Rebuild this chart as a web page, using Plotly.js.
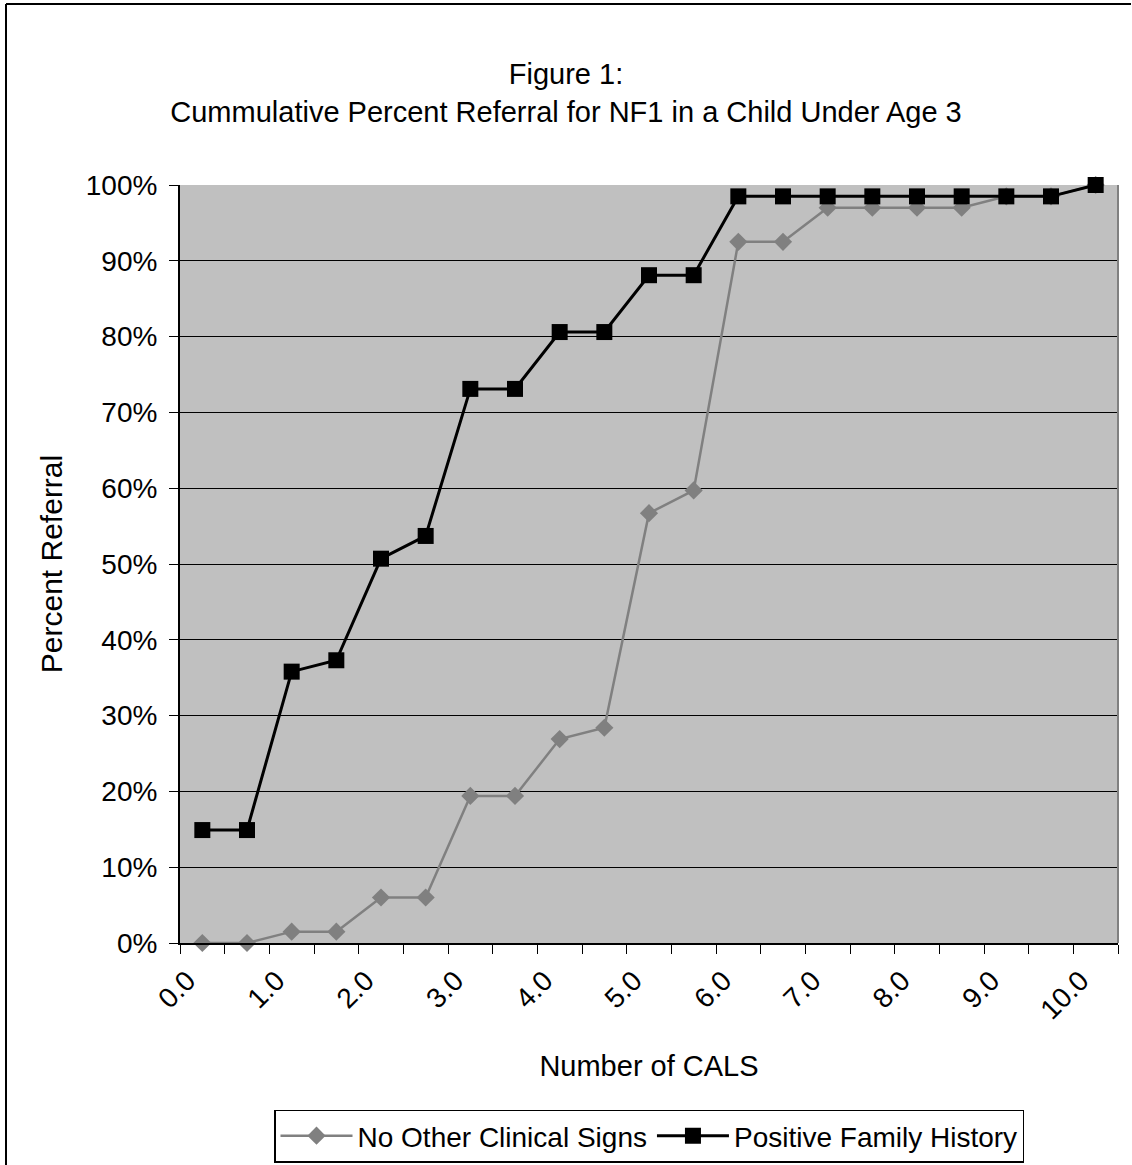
<!DOCTYPE html>
<html>
<head>
<meta charset="utf-8">
<script src="https://cdn.plot.ly/plotly-3.0.1.min.js"></script>
<style>
  html, body { margin: 0; padding: 0; background: #ffffff; }
  #chart { width: 1132px; height: 1165px; }
</style>
</head>
<body>
<div id="chart"></div>
<script>
// Number of CALS categories
var cals = [0.0, 0.5, 1.0, 1.5, 2.0, 2.5, 3.0, 3.5, 4.0, 4.5, 5.0, 5.5, 6.0, 6.5, 7.0, 7.5, 8.0, 8.5, 9.0, 9.5, 10.0];
// Cumulative percent referral (%)
var noOtherClinicalSigns = [0, 0, 1.5, 1.5, 6.0, 6.0, 19.4, 19.4, 26.9, 28.4, 56.7, 59.7, 92.5, 92.5, 97.0, 97.0, 97.0, 97.0, 98.5, 98.5, 100];
var positiveFamilyHistory = [14.9, 14.9, 35.8, 37.3, 50.7, 53.7, 73.1, 73.1, 80.6, 80.6, 88.1, 88.1, 98.5, 98.5, 98.5, 98.5, 98.5, 98.5, 98.5, 98.5, 100];
// Tick labels
var xTickValues = [0, 1, 2, 3, 4, 5, 6, 7, 8, 9, 10];
var xTickLabels = ["0.0", "1.0", "2.0", "3.0", "4.0", "5.0", "6.0", "7.0", "8.0", "9.0", "10.0"];
var yTickValues = [0, 10, 20, 30, 40, 50, 60, 70, 80, 90, 100];
var yTickLabels = ["0%", "10%", "20%", "30%", "40%", "50%", "60%", "70%", "80%", "90%", "100%"];

var step = cals[1] - cals[0];
var boundaries = cals.map(function (c) { return c - step / 2; });
boundaries.push(cals[cals.length - 1] + step / 2);

var FONT = 'Liberation Sans, Arial, sans-serif';

var traces = [
  {
    x: cals, y: noOtherClinicalSigns, type: 'scatter', mode: 'lines+markers',
    name: 'No Other Clinical Signs',
    line: { color: '#808080', width: 2.5 },
    marker: { symbol: 'diamond', size: 14, color: '#808080' },
    cliponaxis: false
  },
  {
    x: cals, y: positiveFamilyHistory, type: 'scatter', mode: 'lines+markers',
    name: 'Positive Family History',
    line: { color: '#000000', width: 3 },
    marker: { symbol: 'square', size: 16, color: '#000000' },
    cliponaxis: false
  }
];

// plot area: x 180..1118, y 185..943
function px(xp) { return (xp - 180) / 938; }
function py(yp) { return (943 - yp) / 758; }

var layout = {
  width: 1132, height: 1165,
  margin: { l: 180, r: 14, t: 185, b: 222, pad: 0, autoexpand: false },
  paper_bgcolor: '#ffffff',
  plot_bgcolor: '#c0c0c0',
  font: { family: FONT, size: 28, color: '#000000' },
  showlegend: true,
  title: {
    text: 'Figure 1:<br>Cummulative Percent Referral for NF1 in a Child Under Age 3',
    font: { family: FONT, size: 29, color: '#000000' },
    x: 0.5, xref: 'container', xanchor: 'center',
    y: 1 - 84 / 1165, yref: 'container', yanchor: 'top'
  },
  xaxis: {
    type: 'linear',
    range: [boundaries[0], boundaries[boundaries.length - 1]],
    tickmode: 'array', tickvals: xTickValues, ticktext: xTickLabels,
    tickangle: -45,
    ticklabelstandoff: 8, ticklabelshift: -15,
    ticks: '', showgrid: false, zeroline: false,
    showline: true, linecolor: '#000000', linewidth: 2,
    tickfont: { family: FONT, size: 28, color: '#000000' },
    minor: { tickmode: 'array', tickvals: boundaries, ticks: 'outside', ticklen: 9, tickcolor: '#000000', tickwidth: 1, showgrid: false },
    title: { text: 'Number of CALS', font: { family: FONT, size: 29, color: '#000000' }, standoff: 31 },
    automargin: false, fixedrange: true
  },
  yaxis: {
    range: [0, 100],
    tickmode: 'array', tickvals: yTickValues, ticktext: yTickLabels,
    ticks: 'outside', ticklen: 9, tickcolor: '#000000', tickwidth: 1,
    ticklabelstandoff: 6,
    showgrid: true, gridcolor: '#000000', gridwidth: 1,
    zeroline: false,
    showline: true, linecolor: '#000000', linewidth: 2,
    tickfont: { family: FONT, size: 28, color: '#000000' },
    title: { text: 'Percent Referral', font: { family: FONT, size: 30, color: '#000000' }, standoff: 14 },
    automargin: false, fixedrange: true
  },
  legend: {
    orientation: 'h',
    x: 0.5, xanchor: 'center',
    y: py(1136), yanchor: 'middle',
    bgcolor: '#ffffff', bordercolor: '#000000', borderwidth: 1.5,
    font: { family: FONT, size: 28, color: '#000000' },
    itemwidth: 72,
    itemsizing: 'trace', traceorder: 'normal'
  },
  shapes: [
    // right border of plot area (gray)
    { type: 'line', xref: 'paper', yref: 'paper', x0: 1, x1: 1, y0: 0, y1: 1, line: { color: '#808080', width: 2 } },
    // outer chart border (left and top)
    { type: 'line', xref: 'paper', yref: 'paper', x0: px(6), x1: px(6), y0: py(4), y1: py(1170), line: { color: '#000000', width: 2 } },
    { type: 'line', xref: 'paper', yref: 'paper', x0: px(6), x1: px(1131), y0: py(4), y1: py(4), line: { color: '#000000', width: 2 } }
  ]
};

Plotly.newPlot('chart', traces, layout, { staticPlot: true, displayModeBar: false });
</script>
</body>
</html>
